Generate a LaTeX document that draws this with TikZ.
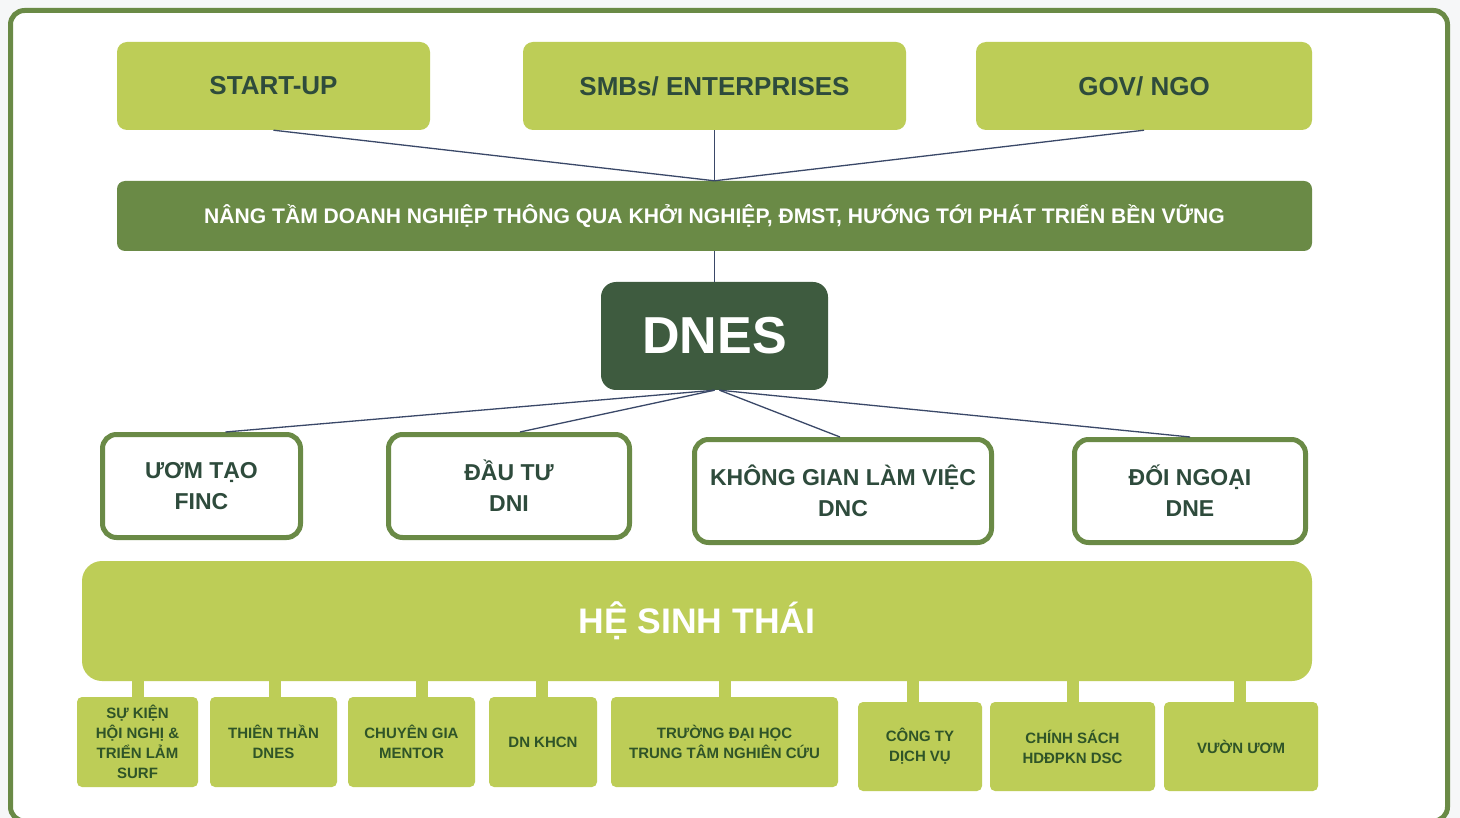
\documentclass[tikz,border=0pt]{standalone}
\usepackage{fontspec}
\setmainfont{Liberation Sans}
\definecolor{lime}{HTML}{BDCD57}
\definecolor{olive}{HTML}{6A8A46}
\definecolor{forest}{HTML}{3E5B3F}
\definecolor{ink}{HTML}{2E4B3C}
\definecolor{inkb}{HTML}{2F5428}
\definecolor{wire}{HTML}{3A4868}
\definecolor{pagebg}{HTML}{F6F7F8}
\begin{document}
\begin{tikzpicture}[x=1pt,y=-1pt,
  topbox/.style={fill=lime, rounded corners=10, text=ink, font=\bfseries\fontsize{26}{30}\selectfont,
    minimum height=88, inner sep=0},
  unitbox/.style={draw=olive, line width=5, fill=white, rounded corners=14, text=ink,
    font=\bfseries\fontsize{23}{31}\selectfont, align=center, minimum width=#1, minimum height=103, inner sep=0},
  leafbox/.style={fill=lime, rounded corners=5, text=inkb, font=\bfseries\fontsize{15}{20}\selectfont,
    align=center, minimum width=#1, inner sep=0},
  wireline/.style={draw=wire, line width=1.3},
  stub/.style={draw=lime, line width=12}
]
\useasboundingbox (0,0) rectangle (1460,818);
\clip (0,0) rectangle (1460,818);
\fill[pagebg] (0,0) rectangle (1460,818);
% outer frame
\draw[olive, line width=5, fill=white, rounded corners=14] (10.5,10.5) rectangle (1447.5,821);

% top row
\node[topbox, minimum width=313] (su)  at (273.5,86) {START-UP};
\node[topbox, minimum width=383] (smb) at (714.5,86) {SMBs/ ENTERPRISES};
\node[topbox, minimum width=336] (gov) at (1144,86) {GOV/ NGO};

% mission banner
\node[fill=olive, rounded corners=8, text=white, minimum width=1195, minimum height=70, inner sep=0,
  font=\bfseries\fontsize{21.1}{24}\selectfont] (ban) at (714.5,216)
  {NÂNG TẦM DOANH NGHIỆP THÔNG QUA KHỞI NGHIỆP, ĐMST, HƯỚNG TỚI PHÁT TRIỂN BỀN VỮNG};

% core
\node[fill=forest, rounded corners=15, text=white, minimum width=227, minimum height=108, inner sep=0,
  font=\bfseries\fontsize{52}{60}\selectfont] (dnes) at (714.5,336) {DNES};

% units
\node[unitbox=198] (finc) at (201.5,486) {ƯƠM TẠO\\FINC};
\node[unitbox=241] (dni)  at (509,486)   {ĐẦU TƯ\\DNI};
\node[unitbox=297] (dnc)  at (843,491)   {KHÔNG GIAN LÀM VIỆC\\DNC};
\node[unitbox=231] (dne)  at (1190,491)  {ĐỐI NGOẠI\\DNE};

% ecosystem
\node[fill=lime, rounded corners=20, text=white, minimum width=1230, minimum height=120, inner sep=0,
  font=\bfseries\fontsize{35.5}{40}\selectfont] (hst) at (697,621) {HỆ SINH THÁI};

% ecosystem members
\node[leafbox=121, minimum height=90] (b1) at (137.5,742) {SỰ KIỆN\\HỘI NGHỊ \&\\TRIỂN LẢM\\SURF};
\node[leafbox=127, minimum height=90] (b2) at (273.5,742) {THIÊN THẦN\\DNES};
\node[leafbox=127, minimum height=90] (b3) at (411.5,742) {CHUYÊN GIA\\MENTOR};
\node[leafbox=108, minimum height=90] (b4) at (543,742)   {DN KHCN};
\node[leafbox=227, minimum height=90] (b5) at (724.5,742) {TRƯỜNG ĐẠI HỌC\\TRUNG TÂM NGHIÊN CỨU};
\node[leafbox=124, minimum height=89] (b6) at (920,746.5) {CÔNG TY\\DỊCH VỤ};
\node[leafbox=165, minimum height=89] (b7) at (1072.5,746.5) {CHÍNH SÁCH\\HDĐPKN DSC};
\node[leafbox=154, minimum height=89] (b8) at (1241,746.5) {VƯỜN ƯƠM};

% connectors
\draw[wireline] (su.south)  -- (ban.north);
\draw[wireline] (smb.south) -- (ban.north);
\draw[wireline] (gov.south) -- (ban.north);
\draw[wireline] (ban.south) -- (dnes.north);
\draw[wireline] (dnes.south) -- ([xshift=24]finc.north);
\draw[wireline] (dnes.south) -- ([xshift=11]dni.north);
\draw[wireline] ([xshift=5]dnes.south) -- ([xshift=-3]dnc.north);
\draw[wireline] ([xshift=5]dnes.south) -- (dne.north);

% stubs joining members to the ecosystem bar
\foreach \b/\dx in {b1/0.5, b2/1.5, b3/10.5, b4/-1, b5/0, b6/-7, b7/0, b8/-1}
  \draw[stub] ([xshift=\dx]\b.north) -- ([xshift=\dx]\b.north |- hst.south);
\end{tikzpicture}
\end{document}
